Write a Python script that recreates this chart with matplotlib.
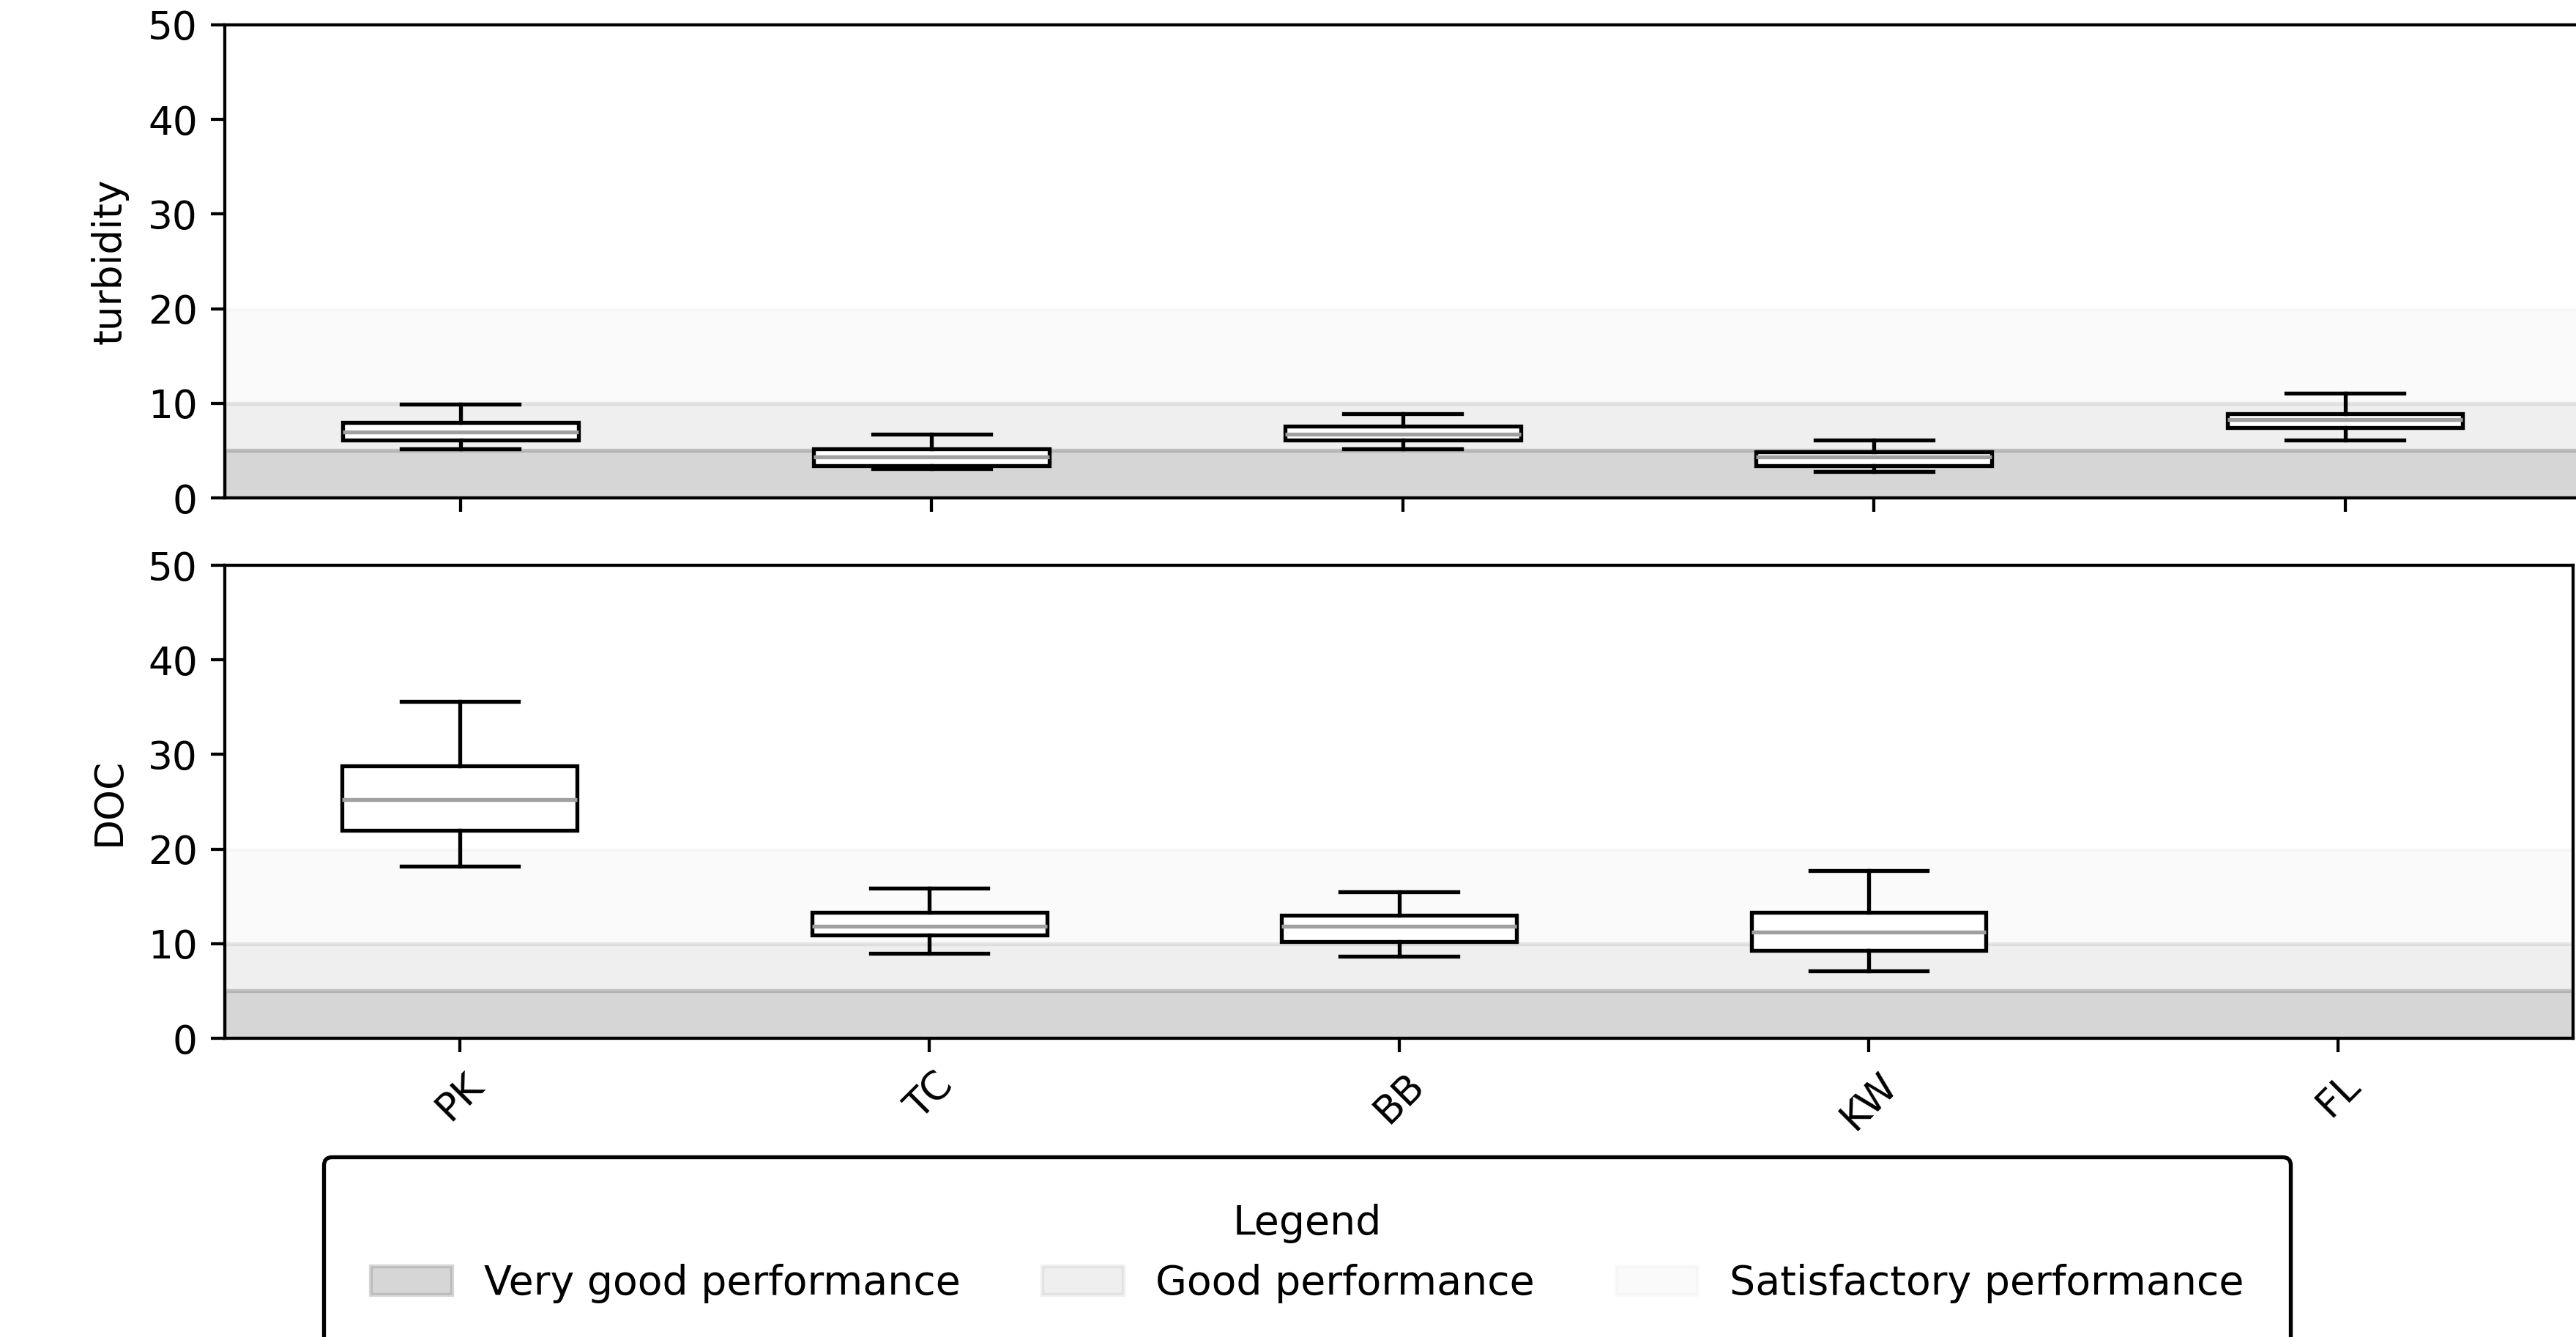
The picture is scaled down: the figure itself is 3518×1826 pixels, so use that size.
import matplotlib
matplotlib.use("Agg")
import matplotlib.pyplot as plt

# sites on the x axis
sites = ["PK", "TC", "BB", "KW", "FL"]

# turbidity box stats per site (lower whisker, Q1, median, Q3, upper whisker)
turb_lo = [5.15, 3.1, 5.15, 2.75, 6.1]
turb_q1 = [6.1, 3.4, 6.1, 3.4, 7.4]
turb_med = [7.0, 4.3, 6.7, 4.3, 8.3]
turb_q3 = [7.95, 5.15, 7.6, 4.85, 8.9]
turb_hi = [9.9, 6.7, 8.9, 6.1, 11.05]

# DOC box stats (no FL data)
doc_sites = ["PK", "TC", "BB", "KW"]
doc_lo = [18.2, 9.0, 8.7, 7.15]
doc_q1 = [22.0, 10.9, 10.25, 9.3]
doc_med = [25.2, 11.85, 11.85, 11.25]
doc_q3 = [28.8, 13.35, 13.0, 13.35]
doc_hi = [35.6, 15.85, 15.5, 17.7]

# performance bands (lower, upper) and labels
band_lo = [0, 5, 10]
band_hi = [5, 10, 20]
band_alpha = [0.32, 0.12, 0.04]
band_labels = ["Very good performance", "Good performance", "Satisfactory performance"]


def stats(names, lo, q1, med, q3, hi):
    return [dict(label=n, whislo=a, q1=b, med=c, q3=d, whishi=e, fliers=[])
            for n, a, b, c, d, e in zip(names, lo, q1, med, q3, hi)]


def draw(ax, st, pos, ylabel):
    spans = []
    for lo, hi, al in zip(band_lo, band_hi, band_alpha):
        spans.append(ax.axhspan(lo, hi, color="gray", alpha=al, zorder=0))
    ax.bxp(st, positions=pos, widths=0.5, patch_artist=True, showfliers=False,
           boxprops=dict(facecolor="white", edgecolor="black", linewidth=1.0),
           medianprops=dict(color="#a0a0a0", linewidth=1.0),
           whiskerprops=dict(color="black", linewidth=1.0),
           capprops=dict(color="black", linewidth=1.0), zorder=3)
    ax.set_xlim(0.5, 5.5)
    ax.set_ylim(0, 50)
    ax.set_yticks([0, 10, 20, 30, 40, 50])
    ax.set_xticks(range(1, 6))
    ax.set_ylabel(ylabel, labelpad=5)
    return spans


fig = plt.figure(figsize=(3518 / 384, 1826 / 384), dpi=384)
ax1 = fig.add_axes([0.0873, 0.6276, 0.9145, 0.3538])
ax2 = fig.add_axes([0.0873, 0.2234, 0.9116, 0.3538])

spans = draw(ax1, stats(sites, turb_lo, turb_q1, turb_med, turb_q3, turb_hi),
             [1, 2, 3, 4, 5], "turbidity")
ax1.tick_params(labelbottom=False)

draw(ax2, stats(doc_sites, doc_lo, doc_q1, doc_med, doc_q3, doc_hi),
     [1, 2, 3, 4], "DOC")
ax2.set_xticklabels(sites, rotation=45)

leg = fig.legend(spans, band_labels, loc="upper center", bbox_to_anchor=(0.5074, 0.1347),
                 ncol=3, title="Legend", fontsize=10.4, title_fontsize=10.4,
                 borderpad=1.15, borderaxespad=0, edgecolor="black", framealpha=1)
leg.get_frame().set_linewidth(1.0)

fig.savefig("out.png", dpi=384)
